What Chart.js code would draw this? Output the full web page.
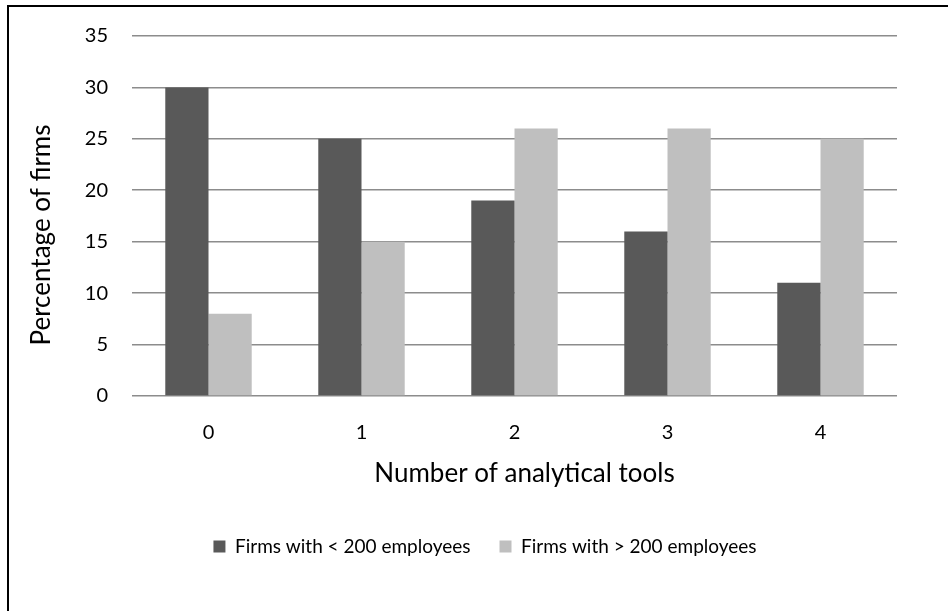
<!DOCTYPE html>
<html>
<head>
<meta charset="utf-8">
<script src="https://cdn.jsdelivr.net/npm/chart.js@4.4.1/dist/chart.umd.min.js"></script>
<style>
  html, body { margin: 0; padding: 0; background: #fff; overflow: hidden; }
  #wrap { position: relative; width: 948px; height: 611px; overflow: hidden; }
  #frame { position: absolute; left: 7px; top: 5px; width: 1000px; height: 700px;
           border-left: 2px solid #000; border-top: 2px solid #000; pointer-events: none; }
  canvas { display: block; }
</style>
</head>
<body>
<div id="wrap">
  <canvas id="chart" width="948" height="611"></canvas>
  <div id="frame"></div>
</div>
<script>
// Share of firms by number of analytical tools used, split by firm size
const categories = ['0', '1', '2', '3', '4'];
const smallFirms = [30, 25, 19, 16, 11];
const largeFirms = [8, 15, 26, 26, 25];
const seriesNames = ['Firms with < 200 employees', 'Firms with > 200 employees'];
const yTicks = [0, 5, 10, 15, 20, 25, 30, 35];
const yTitle = 'Percentage of firms';
const xTitle = 'Number of analytical tools';

const FONT = 'Lato, "Open Sans", sans-serif';

// Axis titles drawn relative to the plot area
const axisTitles = {
  id: 'axisTitles',
  afterDraw(chart) {
    const { ctx, chartArea } = chart;
    ctx.save();
    ctx.fillStyle = '#000';
    ctx.font = '26px ' + FONT;
    ctx.textAlign = 'center';
    ctx.textBaseline = 'middle';
    ctx.fillText(xTitle, (chartArea.left + chartArea.right) / 2 + 10, chartArea.bottom + 78);
    ctx.translate(42, (chartArea.top + chartArea.bottom) / 2 + 19);
    ctx.rotate(-Math.PI / 2);
    ctx.fillText(yTitle, 0, 0);
    ctx.restore();
  }
};

Chart.defaults.color = '#000';
Chart.defaults.font.family = FONT;

new Chart(document.getElementById('chart'), {
  type: 'bar',
  data: {
    labels: categories,
    datasets: [
      { label: seriesNames[0], data: smallFirms, backgroundColor: '#595959', borderWidth: 0 },
      { label: seriesNames[1], data: largeFirms, backgroundColor: '#bfbfbf', borderWidth: 0 }
    ]
  },
  options: {
    responsive: false,
    animation: false,
    categoryPercentage: 0.565,
    barPercentage: 1.0,
    layout: { padding: { left: 73, right: 51, top: 36, bottom: 45 } },
    plugins: {
      legend: {
        position: 'bottom',
        labels: {
          boxWidth: 12,
          boxHeight: 12,
          padding: 29,
          font: { size: 19, family: FONT },
          color: '#000'
        }
      },
      tooltip: { enabled: false }
    },
    scales: {
      x: {
        grid: { display: false, drawTicks: false },
        border: { display: false },
        ticks: { padding: 25, font: { size: 20, family: FONT }, color: '#000' },
        afterFit(scale) { scale.height = 112; }
      },
      y: {
        min: 0,
        max: 35,
        afterBuildTicks(scale) { scale.ticks = yTicks.map(v => ({ value: v })); },
        grid: { color: '#8c8c8c', lineWidth: 1.6, drawTicks: false },
        border: { display: false },
        ticks: { padding: 24, font: { size: 20, family: FONT }, color: '#000' },
        afterFit(scale) { scale.width = 59; }
      }
    }
  },
  plugins: [axisTitles]
});
</script>
</body>
</html>
